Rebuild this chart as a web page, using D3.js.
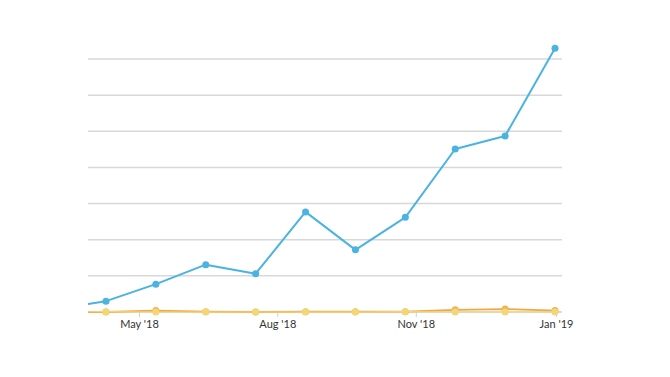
<!DOCTYPE html>
<html>
<head>
<meta charset="utf-8">
<script src="https://cdn.jsdelivr.net/npm/d3@7"></script>
<style>
  html, body { margin: 0; padding: 0; background: #fff; }
  svg { display: block; }
  .tick text { font-family: Lato, "Open Sans", sans-serif; }
</style>
</head>
<body>
<svg id="chart" width="670" height="377"></svg>
<script>
// Period index of each point (monthly-ish points; index -1 is partially clipped)
const periods = [-1, 0, 1, 2, 3, 4, 5, 6, 7, 8, 9];
const blueValues   = [8, 30, 77, 131, 106, 277, 172, 262, 451, 487, 730];
const orangeValues = [0, 0, 4, 1, 0, 1, 1, 1, 6, 8, 4];
const yellowValues = [0, 1, 0, 0, 0, 0, 0, 1, 0, 0, 0];
const tickPositions = [0.662, 3.434, 6.21, 9.02];
const tickLabels = ["May '18", "Aug '18", "Nov '18", "Jan '19"];
const gridValues = [100, 200, 300, 400, 500, 600, 700];

const svg = d3.select("#chart");
const mLeft = 88, mRight = 562, mTop = 30, mBottom = 312;

const x = d3.scaleLinear().domain([-0.36, 9.14]).range([mLeft, mRight]);
const y = d3.scaleLinear().domain([0, 700]).range([mBottom, 59]);

svg.append("defs").append("clipPath").attr("id", "plotclip")
  .append("rect").attr("x", mLeft).attr("y", mTop - 10)
  .attr("width", mRight - mLeft + 10).attr("height", mBottom - mTop + 20);

// gridlines
svg.append("g").selectAll("line").data(gridValues).join("line")
  .attr("x1", mLeft).attr("x2", mRight)
  .attr("y1", d => y(d)).attr("y2", d => y(d))
  .attr("stroke", "#d8d8d8").attr("stroke-width", 1.5);

// x axis
const xAxis = d3.axisBottom(x).tickValues(tickPositions)
  .tickFormat((d, i) => tickLabels[i]).tickSize(5).tickPadding(3);
const gx = svg.append("g").attr("transform", `translate(0,${mBottom})`).call(xAxis);
gx.select(".domain").remove();
gx.append("line").attr("x1", mLeft).attr("x2", mRight).attr("y1", 0).attr("y2", 0)
  .attr("stroke", "#cfcfcf").attr("stroke-width", 1.5);
gx.selectAll(".tick line").attr("stroke", "#c8d4dc").attr("stroke-width", 1);
gx.selectAll(".tick text").attr("fill", "#333").attr("font-size", 11);

const plot = svg.append("g").attr("clip-path", "url(#plotclip)");

function drawSeries(values, lineColor, dotColor, width) {
  const pts = periods.map((p, i) => [p, values[i]]);
  const line = d3.line().x(d => x(d[0])).y(d => y(d[1]));
  plot.append("path").datum(pts).attr("d", line)
    .attr("fill", "none").attr("stroke", lineColor).attr("stroke-width", width)
    .attr("stroke-linejoin", "round");
  plot.append("g").selectAll("circle").data(pts.filter(d => d[0] >= 0)).join("circle")
    .attr("cx", d => x(d[0])).attr("cy", d => y(d[1])).attr("r", 3.5)
    .attr("fill", dotColor);
}

drawSeries(orangeValues, "#f2a63e", "#f2b257", 1.8);
drawSeries(yellowValues, "#f3d774", "#f3d774", 1.2);
drawSeries(blueValues, "#4ab3e2", "#4ab3e2", 2);
</script>
</body>
</html>
